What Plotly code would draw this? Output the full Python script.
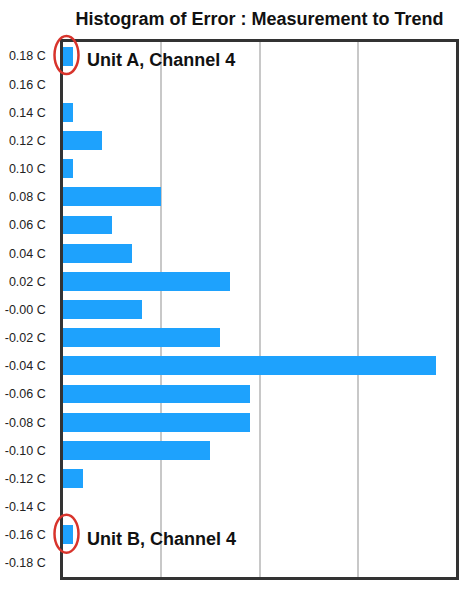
import plotly.graph_objects as go

categories = ["0.18 C", "0.16 C", "0.14 C", "0.12 C", "0.10 C", "0.08 C", "0.06 C",
              "0.04 C", "0.02 C", "-0.00 C", "-0.02 C", "-0.04 C", "-0.06 C",
              "-0.08 C", "-0.10 C", "-0.12 C", "-0.14 C", "-0.16 C", "-0.18 C"]
counts = [1, 0, 1, 4, 1, 10, 5, 7, 17, 8, 16, 38, 19, 19, 15, 2, 0, 1, 0]
highlights = [("0.18 C", "Unit A, Channel 4"), ("-0.16 C", "Unit B, Channel 4")]

n = len(categories)
fig = go.Figure(go.Bar(
    x=counts, y=categories, orientation="h",
    marker=dict(color="#1ea2fd", line=dict(width=0)),
    width=0.67, hoverinfo="x+y"))

shapes = []
annotations = []
for cat, label in highlights:
    idx = categories.index(cat)
    yd = 1 - (idx + 0.5) / n
    shapes.append(dict(type="circle", xref="x domain", yref="y domain",
                       xsizemode="pixel", ysizemode="pixel",
                       xanchor=0, yanchor=yd, x0=-8.5, x1=15.5, y0=-18, y1=20,
                       line=dict(color="#d8342c", width=2.5), layer="above"))
    annotations.append(dict(xref="x domain", yref="y", x=0, y=cat, xshift=22, yshift=-4,
                            xanchor="left", yanchor="middle", showarrow=False,
                            text="<b>" + label + "</b>",
                            font=dict(family="Liberation Sans, Arial", size=18, color="#111")))

fig.update_layout(
    width=467, height=590,
    margin=dict(l=63, r=11, t=42, b=13, autoexpand=False),
    paper_bgcolor="white", plot_bgcolor="white",
    title=dict(text="<b>Histogram of Error : Measurement to Trend</b>",
               x=0.5557, xanchor="center", yref="container", y=1 - 19 / 590, yanchor="middle",
               font=dict(family="Liberation Sans, Arial", size=18, color="#111")),
    xaxis=dict(range=[0, 40], dtick=10, showticklabels=False, ticks="", automargin=False,
               showgrid=True, gridcolor="#c8c8c8", gridwidth=2, zeroline=False,
               showline=True, linecolor="#333", linewidth=2.5, mirror=True, fixedrange=True),
    yaxis=dict(type="category", categoryorder="array", categoryarray=categories,
               range=[n - 0.5, -0.5], ticks="", ticklabelstandoff=12, automargin=False,
               tickfont=dict(family="Liberation Sans, Arial", size=12.5, color="#222"),
               showgrid=False, zeroline=False,
               showline=True, linecolor="#333", linewidth=2.5, mirror=True, fixedrange=True),
    shapes=shapes, annotations=annotations, showlegend=False, bargap=0,
)

fig.write_html("out.html")
